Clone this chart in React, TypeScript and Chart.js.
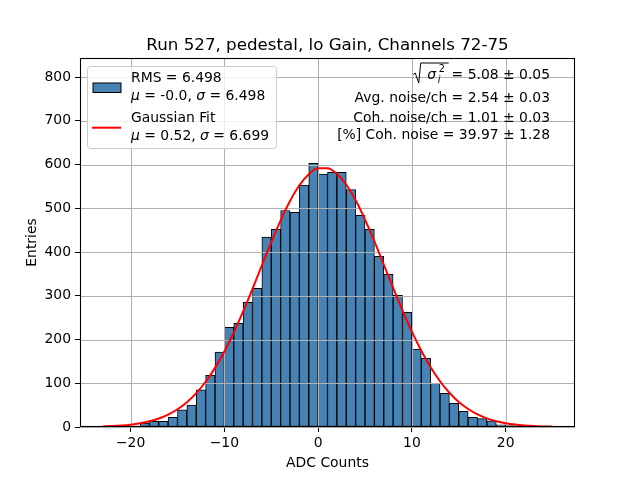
import { useEffect, useRef } from "react";
import { Chart, registerables } from "chart.js";

Chart.register(...registerables);

// histogram: 1 ADC wide bins from -23 to 25
const binCenters = [
  -22.5, -21.5, -20.5, -19.5, -18.5, -17.5, -16.5, -15.5, -14.5, -13.5, -12.5, -11.5,
  -10.5, -9.5, -8.5, -7.5, -6.5, -5.5, -4.5, -3.5, -2.5, -1.5, -0.5, 0.5,
  1.5, 2.5, 3.5, 4.5, 5.5, 6.5, 7.5, 8.5, 9.5, 10.5, 11.5, 12.5,
  13.5, 14.5, 15.5, 16.5, 17.5, 18.5, 19.5, 20.5, 21.5, 22.5, 23.5, 24.5,
];
const counts = [
  1, 0, 1, 2, 9, 13, 13, 22, 39, 50, 85, 118,
  171, 228, 237, 285, 317, 434, 452, 495, 491, 553, 603, 578,
  582, 582, 543, 484, 452, 390, 349, 301, 262, 178, 157, 100,
  77, 54, 36, 22, 19, 14, 5, 3, 2, 1, 1, 2,
];

// gaussian fit curve
const fitX = [
  -23, -22, -21, -20, -19, -18, -17, -16, -15, -14, -13, -12, -11, -10, -9, -8, -7,
  -6, -5, -4, -3, -2, -1, 0, 1, 2, 3, 4, 5, 6, 7, 8, 9, 10, 11, 12, 13, 14, 15, 16,
  17, 18, 19, 20, 21, 22, 23, 24, 25,
];
const fitY = [
  1.3, 2.1, 3.4, 5.4, 8.5, 13, 19.4, 28.4, 40.5, 56.6, 77.4, 103.4, 135.2, 172.8, 216,
  264.1, 315.8, 369.3, 422.3, 472.3, 516.5, 552.5, 577.9, 591.2, 591.5, 578.7, 553.7,
  518.2, 474.2, 424.4, 371.4, 317.9, 266.2, 217.9, 174.4, 136.6, 104.6, 78.3, 57.3,
  41.1, 28.8, 19.7, 13.2, 8.6, 5.5, 3.5, 2.1, 1.3, 0.75,
];

const title = "Run 527, pedestal, lo Gain, Channels 72-75";
const xLabel = "ADC Counts";
const yLabel = "Entries";
const sqrtTail = " = 5.08 \u00b1 0.05";
const statLines = [
  "Avg. noise/ch = 2.54 \u00b1 0.03",
  "Coh. noise/ch = 1.01 \u00b1 0.03",
  "[%] Coh. noise = 39.97 \u00b1 1.28",
];

const FONT = '"DejaVu Sans", sans-serif';
const FS = 13.9;
const BLUE = "#4682b4";
const GRID = "#b0b0b0";

type Run = [string, boolean];

function drawRuns(ctx: CanvasRenderingContext2D, parts: Run[], x: number, y: number, size = FS) {
  let cx = x;
  for (const [t, it] of parts) {
    ctx.font = `${it ? "italic " : ""}${size}px ${FONT}`;
    ctx.fillText(t, cx, y);
    cx += ctx.measureText(t).width;
  }
}

const overlay = {
  id: "overlay",
  beforeDatasetDraw(chart: Chart, args: { index: number }) {
    if (args.index !== 1) return;
    // grid sits above the bars but under the fit line
    const { ctx, chartArea: a } = chart;
    const xs = chart.scales.x;
    const ys = chart.scales.y;
    ctx.save();
    ctx.strokeStyle = GRID;
    ctx.lineWidth = 1;
    ctx.beginPath();
    for (const t of xs.ticks) {
      const px = Math.round(xs.getPixelForValue(t.value)) + 0.5;
      ctx.moveTo(px, a.top);
      ctx.lineTo(px, a.bottom);
    }
    for (const t of ys.ticks) {
      const py = Math.round(ys.getPixelForValue(t.value)) + 0.5;
      ctx.moveTo(a.left, py);
      ctx.lineTo(a.right, py);
    }
    ctx.stroke();
    ctx.restore();
  },
  afterDraw(chart: Chart) {
    const { ctx, chartArea: a } = chart;
    ctx.save();
    // frame
    ctx.strokeStyle = "#000";
    ctx.lineWidth = 1.1;
    ctx.strokeRect(a.left + 0.5, a.top + 0.5, a.right - a.left - 1, a.bottom - a.top - 1);

    ctx.fillStyle = "#000";
    ctx.textBaseline = "alphabetic";
    // title
    ctx.textAlign = "center";
    ctx.font = `16.7px ${FONT}`;
    ctx.fillText(title, (a.left + a.right) / 2, 50);
    // axis labels
    ctx.font = `${FS}px ${FONT}`;
    ctx.fillText(xLabel, (a.left + a.right) / 2, 467);
    ctx.save();
    ctx.translate(35.5, (a.top + a.bottom) / 2);
    ctx.rotate(-Math.PI / 2);
    ctx.fillText(yLabel, 0, 0);
    ctx.restore();

    // legend box
    ctx.textAlign = "left";
    const lx = 87, ly = 66, lw = 189, lh = 82, r = 3;
    ctx.beginPath();
    ctx.roundRect(lx + 0.5, ly + 0.5, lw, lh, r);
    ctx.fillStyle = "rgba(255,255,255,0.8)";
    ctx.fill();
    ctx.strokeStyle = "#cccccc";
    ctx.lineWidth = 1;
    ctx.stroke();
    ctx.fillStyle = BLUE;
    ctx.fillRect(93, 83, 28, 9.5);
    ctx.strokeStyle = "#000";
    ctx.strokeRect(93, 83, 28, 9.5);
    ctx.strokeStyle = "red";
    ctx.lineWidth = 2;
    ctx.beginPath();
    ctx.moveTo(92, 127.7);
    ctx.lineTo(121, 127.7);
    ctx.stroke();
    ctx.fillStyle = "#000";
    drawRuns(ctx, [["RMS = 6.498", false]], 131, 82);
    drawRuns(ctx, [["\u03bc", true], [" = -0.0, ", false], ["\u03c3", true], [" = 6.498", false]], 131, 99.5);
    drawRuns(ctx, [["Gaussian Fit", false]], 131, 122);
    drawRuns(ctx, [["\u03bc", true], [" = 0.52, ", false], ["\u03c3", true], [" = 6.699", false]], 131, 139.5);

    // stats block, right aligned
    const rx = 550;
    ctx.font = `${FS}px ${FONT}`;
    const tw = ctx.measureText(sqrtTail).width;
    const tx = rx - tw;
    ctx.fillText(sqrtTail, tx, 78.5);
    ctx.strokeStyle = "#000";
    ctx.lineWidth = 1;
    ctx.beginPath();
    ctx.moveTo(tx - 34, 74.5);
    ctx.lineTo(tx - 32, 73);
    ctx.lineTo(tx - 28.5, 83);
    ctx.lineTo(tx - 26.5, 63);
    ctx.lineTo(tx + 1.5, 63);
    ctx.stroke();
    drawRuns(ctx, [["\u03c3", true]], tx - 20, 79);
    drawRuns(ctx, [["i", true]], tx - 9.5, 83, 9.7);
    drawRuns(ctx, [["2", false]], tx - 8.5, 72, 9.7);
    ctx.textAlign = "right";
    ctx.font = `${FS}px ${FONT}`;
    ctx.fillText(statLines[0], rx, 102);
    ctx.fillText(statLines[1], rx, 122);
    ctx.fillText(statLines[2], rx, 139);
    ctx.restore();
  },
};

const minus = (v: string | number) => String(v).replace("-", "\u2212");

export default function App() {
  const canvasRef = useRef<HTMLCanvasElement>(null);

  useEffect(() => {
    document.body.style.margin = "0";
    if (!canvasRef.current) return;
    const chart = new Chart(canvasRef.current, {
      type: "bar",
      data: {
        datasets: [
          {
            type: "bar",
            data: binCenters.map((x, i) => ({ x, y: counts[i] })),
            backgroundColor: BLUE,
            borderColor: "#000",
            borderWidth: 1,
            borderSkipped: false,
            barPercentage: 1,
            categoryPercentage: 1,
            order: 1,
          },
          {
            type: "line",
            data: fitX.map((x, i) => ({ x, y: fitY[i] })),
            borderColor: "red",
            borderWidth: 2,
            pointRadius: 0,
            cubicInterpolationMode: "monotone",
            fill: false,
            order: 0,
          },
        ],
      } as any,
      options: {
        responsive: true,
        maintainAspectRatio: false,
        animation: false,
        layout: { padding: { left: 0, right: 65, top: 58, bottom: 0 } },
        plugins: { legend: { display: false }, tooltip: { enabled: false }, title: { display: false } },
        scales: {
          x: {
            type: "linear",
            min: -25.4,
            max: 27.4,
            offset: false,
            afterFit: (s: any) => {
              s.height = 53;
            },
            ticks: {
              stepSize: 10,
              includeBounds: false,
              padding: 3,
              color: "#000",
              font: { family: FONT, size: FS },
              callback: (v: any) => minus(v),
              maxRotation: 0,
            },
            grid: {
              offset: false,
              drawOnChartArea: false,
              drawTicks: true,
              tickLength: 5,
              tickColor: "#000",
              tickWidth: 1,
            },
            border: { display: false },
          },
          y: {
            type: "linear",
            min: 0,
            max: 843.5,
            afterFit: (s: any) => {
              s.width = 80;
            },
            ticks: {
              stepSize: 100,
              includeBounds: false,
              padding: 4,
              color: "#000",
              font: { family: FONT, size: FS },
            },
            grid: { drawOnChartArea: false, drawTicks: true, tickLength: 5, tickColor: "#000", tickWidth: 1 },
            border: { display: false },
          },
        },
      },
      plugins: [overlay as any],
    });
    return () => chart.destroy();
  }, []);

  return (
    <div style={{ position: "relative", width: 640, height: 480, background: "#fff" }}>
      <canvas ref={canvasRef} />
    </div>
  );
}
